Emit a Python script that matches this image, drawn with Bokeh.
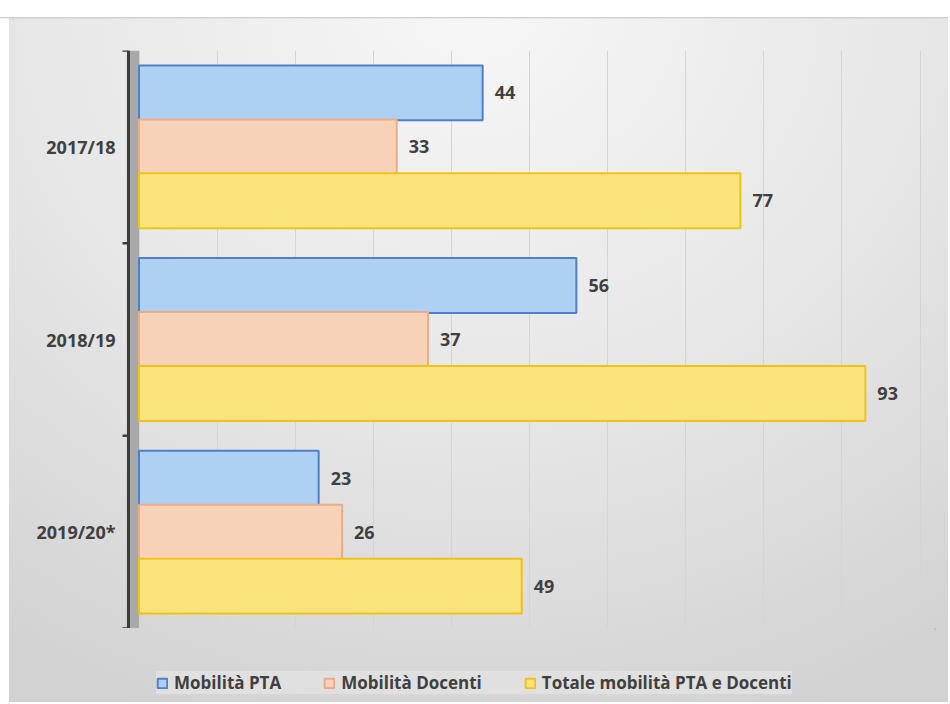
from bokeh.plotting import figure
from bokeh.models import (ColumnDataSource, FactorRange, Range1d, Legend, LegendItem,
                          SingleIntervalTicker)
from bokeh.layouts import column
from bokeh.transform import dodge
from bokeh.core.properties import value
from bokeh.embed import file_html
from bokeh.resources import INLINE

# ---- data ----
years = ["2017/18", "2018/19", "2019/20*"]
mobilita_pta = [44, 56, 23]
mobilita_docenti = [33, 37, 26]
totale_mobilita = [77, 93, 49]
series_names = ["Mobilità PTA", "Mobilità Docenti", "Totale mobilità PTA e Docenti"]

# ---- styles ----
fills = ["#aed0f2", "#f8d2b8", "#fce47c"]
lines = ["#4f7fc8", "#e9ad88", "#efc21a"]
offsets = [0.28, 0.0, -0.28]
FONT = "Open Sans"
TXT = "#404040"
W, H_MAIN, H_LEG = 948, 628, 74

BG = ("linear-gradient(to bottom, #ffffff 0px, #ffffff 17px, #c4c4c4 17px, transparent 19px), "
      "linear-gradient(to right, #ffffff 0px, #ffffff 9px, transparent 9px), "
      "radial-gradient(ellipse 90% 110% at 50% 0%, #f7f7f7 0%, #e6e6e6 55%, #d2d2d2 100%)")

src = ColumnDataSource(dict(
    year=years,
    s0=mobilita_pta, s1=mobilita_docenti, s2=totale_mobilita,
    l0=[str(v) for v in mobilita_pta],
    l1=[str(v) for v in mobilita_docenti],
    l2=[str(v) for v in totale_mobilita],
))

p = figure(width=W, height=H_MAIN,
           y_range=FactorRange(factors=years[::-1], range_padding=0),
           x_range=Range1d(-2.113, 101.98),
           output_backend="svg", toolbar_location=None,
           min_border_left=122, min_border_right=13,
           min_border_top=50, min_border_bottom=0)

p.border_fill_color = None
p.background_fill_color = None
p.outline_line_color = None
p.styles = {"background": BG, "background-size": f"{W}px {H_MAIN + H_LEG}px",
            "background-position": "0px 0px"}

# grid
p.xaxis.visible = False
p.xgrid.ticker = SingleIntervalTicker(interval=10)
p.xgrid.grid_line_color = "#d4d4d4"
p.xgrid.grid_line_width = 1
p.ygrid.grid_line_color = None

# 3D side wall and axis line with ticks at category boundaries (synthetic coords 0..3)
n = len(years)
bounds = list(range(n + 1))
p.quad(left=-1.35, right=0, bottom=0, top=n, fill_color="#a9a9a9", line_color=None)
p.segment(x0=-1.35, x1=-1.35, y0=0, y1=n, line_color="#3c3c3c", line_width=3)
p.segment(x0=[-2.2] * len(bounds), x1=[-1.35] * len(bounds), y0=bounds, y1=bounds,
          line_color="#3c3c3c", line_width=2.5)

# bars + value labels
for i in range(3):
    p.hbar(y=dodge("year", offsets[i], range=p.y_range), right=f"s{i}", left=0,
           height=0.285, source=src, fill_color=fills[i], line_color=lines[i],
           line_width=2)
    p.text(x=f"s{i}", y=dodge("year", offsets[i], range=p.y_range), text=f"l{i}",
           source=src, x_offset=12, text_baseline="middle", text_align="left",
           text_font=value(FONT), text_font_style="bold", text_font_size="18px",
           text_color=TXT)

# category axis
ax = p.yaxis[0]
ax.axis_line_color = None
ax.major_tick_line_color = None
ax.minor_tick_line_color = None
ax.major_tick_out = 0
ax.major_tick_in = 0
ax.major_label_standoff = 7
ax.major_label_text_font = FONT
ax.major_label_text_font_style = "bold"
ax.major_label_text_font_size = "18px"
ax.major_label_text_color = TXT

# ---- legend strip (separate figure so it sits below the plot area) ----
pl = figure(width=W, height=H_LEG, x_range=Range1d(0, 1), y_range=Range1d(0, 1),
            output_backend="svg", toolbar_location=None,
            x_axis_location=None, y_axis_location=None,
            min_border_left=0, min_border_right=0, min_border_top=0, min_border_bottom=0)
pl.border_fill_color = None
pl.background_fill_color = None
pl.outline_line_color = None
pl.xgrid.grid_line_color = None
pl.ygrid.grid_line_color = None
pl.styles = {"background": BG, "background-size": f"{W}px {H_MAIN + H_LEG}px",
             "background-position": f"0px -{H_MAIN}px"}

# legend swatches: one far off-screen bar per series so the legend has glyphs to draw
leg_renderers = [pl.hbar(y=[50], right=[60], left=50, height=0.5, fill_color=fills[i],
                         line_color=lines[i], line_width=2) for i in range(3)]

legend = Legend(items=[LegendItem(label=series_names[i], renderers=[leg_renderers[i]]) for i in range(3)],
                orientation="horizontal", location=(34, 8),
                glyph_width=12, glyph_height=12, label_standoff=6, spacing=42,
                padding=10, margin=0,
                label_text_font=FONT, label_text_font_size="17px",
                label_text_font_style="bold", label_text_color=TXT,
                background_fill_color="#e0e0e0", background_fill_alpha=1,
                border_line_color=None)
pl.add_layout(legend, "center")

layout = column(p, pl)
open("out.html", "w").write(file_html(layout, INLINE))
